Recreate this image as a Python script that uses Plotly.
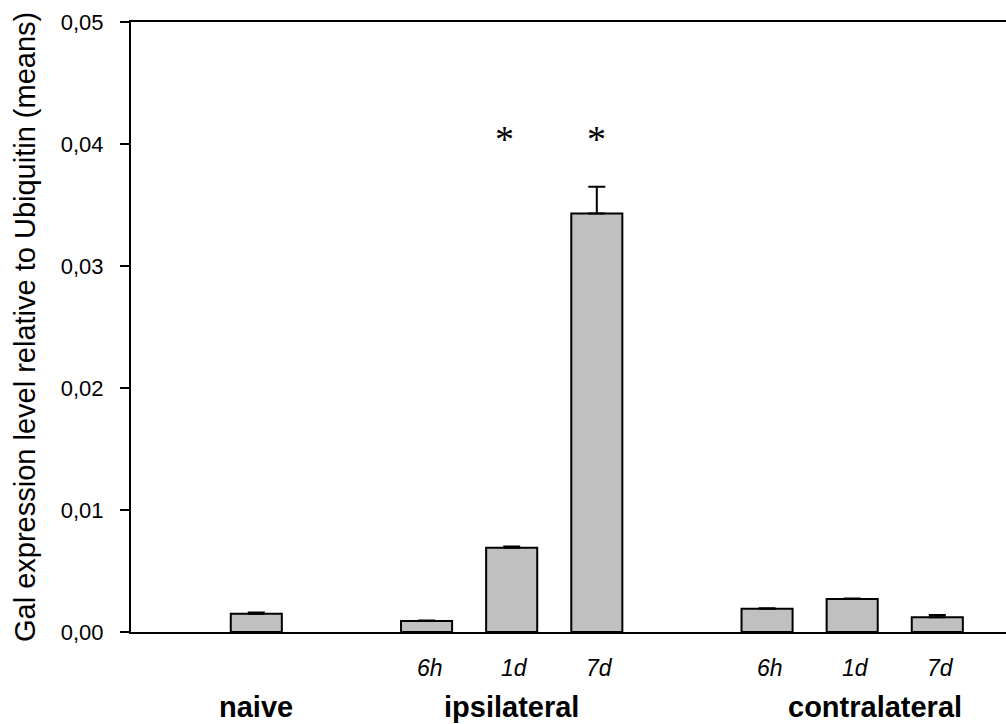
import plotly.graph_objects as go

# Gal mRNA expression (relative to Ubiquitin), group means with upper SEM
positions = [0, 2, 3, 4, 6, 7, 8]
means = [0.0015, 0.0009, 0.0069, 0.0343, 0.0019, 0.0027, 0.0012]
sem = [0.0001, 0.00005, 0.0001, 0.0022, 0.00005, 0.00005, 0.0002]

time_positions = [2, 3, 4, 6, 7, 8]
time_labels = ["6h", "1d", "7d", "6h", "1d", "7d"]

group_labels = ["naive", "ipsilateral", "contralateral"]
group_positions = [0, 3, 7.27]

significant = [3, 4]
star_level = 0.0404

y_ticks = [0.0, 0.01, 0.02, 0.03, 0.04, 0.05]

SANS = "Liberation Sans, Arial, sans-serif"

fig = go.Figure()
fig.add_trace(go.Bar(
    x=positions,
    y=means,
    width=0.6,
    marker=dict(color="#c0c0c0", line=dict(color="black", width=2)),
    error_y=dict(type="data", symmetric=False, array=sem,
                 arrayminus=[0] * len(sem), color="black",
                 thickness=2, width=8.5),
    showlegend=False,
    hoverinfo="skip",
))

annotations = []
# time-point labels under the axis
for xp, lab in zip(time_positions, time_labels):
    annotations.append(dict(
        x=xp, y=0, xref="x", yref="paper", yanchor="middle", xanchor="center",
        yshift=-36, xshift=3, text=f"<i>{lab}</i>", showarrow=False,
        font=dict(family=SANS, size=23, color="black")))
# group labels
for xp, lab in zip(group_positions, group_labels):
    annotations.append(dict(
        x=xp, y=0, xref="x", yref="paper", yanchor="middle", xanchor="center",
        yshift=-75, text=f"<b>{lab}</b>", showarrow=False,
        font=dict(family=SANS, size=29, color="black")))
# significance markers
for i, xp in enumerate(significant):
    annotations.append(dict(
        x=xp, y=star_level, xref="x", yref="y", yanchor="middle",
        xanchor="center", xshift=-7 if i == 0 else 0, text="*",
        showarrow=False,
        font=dict(family="Liberation Serif, Times New Roman, serif",
                  size=38, color="black")))
# y-axis title
annotations.append(dict(
    x=0, y=0.5, xref="paper", yref="paper", xshift=-106,
    xanchor="center", yanchor="middle", textangle=-90,
    text="Gal expression level relative to Ubiquitin (means)",
    showarrow=False, font=dict(family=SANS, size=29, color="black")))

fig.update_layout(
    width=1006, height=724,
    margin=dict(l=131, r=0, t=22, b=92),
    paper_bgcolor="white", plot_bgcolor="white",
    separators=", ",
    font=dict(family=SANS, color="black"),
    annotations=annotations,
    xaxis=dict(range=[-1.472, 8.807], showgrid=False, zeroline=False,
               showticklabels=False, ticks="", showline=True,
               linecolor="black", linewidth=2, mirror=True, fixedrange=True),
    yaxis=dict(range=[0, 0.05], tickvals=y_ticks, tickformat=".2f",
               showgrid=False, zeroline=False, showline=True,
               linecolor="black", linewidth=2, ticks="outside",
               ticklen=9, tickwidth=2, tickcolor="black",
               ticklabelstandoff=12,
               tickfont=dict(family=SANS, size=22, color="black"),
               fixedrange=True),
)

fig.write_html("out.html")
